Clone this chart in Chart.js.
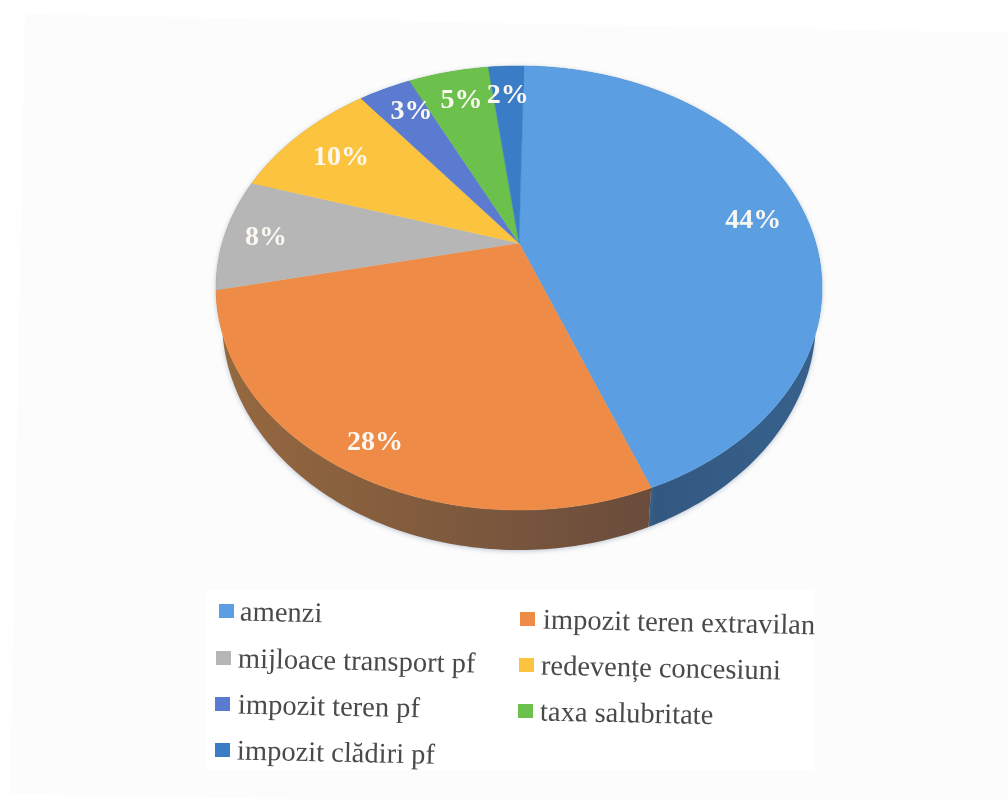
<!DOCTYPE html>
<html><head><meta charset="utf-8">
<style>
html,body{margin:0;padding:0;background:#fff;width:1008px;height:800px;overflow:hidden}
#sheet{position:absolute;left:25px;top:14px;width:1010px;height:780px;background:#fcfcfc;transform:rotate(1.1deg);transform-origin:0 0}
#legendBg{position:absolute;left:205px;top:590px;width:610px;height:180px;background:#fff}
canvas{position:absolute;left:0;top:0;filter:blur(0.55px)}
</style>
<script src="https://cdn.jsdelivr.net/npm/chart.js@4"></script>
</head><body>
<div id="sheet"></div><div id="legendBg"></div>
<canvas id="c" width="1008" height="800"></canvas>
<script>
const categories = ["amenzi","impozit teren extravilan","mijloace transport pf","redevențe concesiuni","impozit teren pf","taxa salubritate","impozit clădiri pf"];
const shares = [43.8,27.5,8.2,9.6,3.4,5.2,2.3];
const faceColors = ["#5b9fe2","#ee8c47","#b6b6b6","#fcc43e","#5a7bd0","#6cc04c","#3b7cc6"];
const wallColors = [["#37618c","#2f5278"],["#96693f","#6a4c3c"],["#777","#666"],["#a58025","#8a6a20"],["#3a5088","#304478"],["#467d30","#3a6a28"],["#27528a","#204678"]];

// Perspective view of the pie's top face, and the lower rim of the side wall
const view = {ax:519, ay:243, A:296.7, D:212.9, k:-0.2027};
const top_ = {cx:519, cy:288, ry:222, rx:303};
const low = {cx:519, cy:320, ry:230, rx:297};
function proj(a, r){
  const x=r*Math.cos(a), y=r*Math.sin(a), w=1+view.k*y;
  return [view.ax+view.A*x/w, view.ay+view.D*y/w];
}
function lower(p){
  return [low.cx+(p[0]-top_.cx)*low.rx/top_.rx, low.cy+(p[1]-top_.cy)*low.ry/top_.ry];
}
Chart.ArcElement.prototype.draw = function(ctx){
  const i=this.$context.dataIndex, c=faceColors[i];
  ctx.save();
  ctx.beginPath();
  ctx.moveTo(view.ax,view.ay);
  const n=Math.max(8,Math.ceil((this.endAngle-this.startAngle)*60));
  for(let s=0;s<=n;s++){
    const p=proj(this.startAngle+(this.endAngle-this.startAngle)*s/n,1);
    ctx.lineTo(p[0],p[1]);
  }
  ctx.closePath();
  ctx.fillStyle=c; ctx.strokeStyle=c; ctx.lineWidth=0.5;
  ctx.fill(); ctx.stroke();
  ctx.restore();
};
const wallPlugin={id:'wall',beforeDatasetsDraw(chart){
  const ctx=chart.ctx;
  chart.getDatasetMeta(0).data.forEach((el,i)=>{
    const n=Math.max(8,Math.ceil((el.endAngle-el.startAngle)*60)), up=[], dn=[];
    for(let s=0;s<=n;s++){
      const p=proj(el.startAngle+(el.endAngle-el.startAngle)*s/n,1);
      up.push(p); dn.push(lower(p));
    }
    const xs=up.concat(dn).map(p=>p[0]);
    const g=ctx.createLinearGradient(Math.min(...xs),0,Math.max(...xs),0);
    const pair=wallColors[i];
    g.addColorStop(0,i===0?pair[1]:pair[0]); g.addColorStop(1,i===0?pair[0]:pair[1]);
    ctx.save();
    ctx.shadowColor='rgba(110,130,160,0.45)'; ctx.shadowBlur=5; ctx.shadowOffsetY=1;
    ctx.beginPath();
    up.forEach((p,j)=>j?ctx.lineTo(p[0],p[1]):ctx.moveTo(p[0],p[1]));
    dn.reverse().forEach(p=>ctx.lineTo(p[0],p[1]));
    ctx.closePath();
    ctx.fillStyle=g; ctx.fill();
    ctx.restore();
  });
}};
const labelNudge=[[-7,8],[-3,12],[-3,3],[11,8],[9,3],[4,7],[0,7]];
const labelPlugin={id:'labels',afterDatasetsDraw(chart){
  const ctx=chart.ctx;
  ctx.save();
  ctx.font='bold 28px "Liberation Serif"';
  ctx.fillStyle='#fbf8f2'; ctx.textAlign='center'; ctx.textBaseline='middle';
  chart.getDatasetMeta(0).data.forEach((el,i)=>{
    const p=proj((el.startAngle+el.endAngle)/2,0.85);
    ctx.fillText(Math.round(shares[i])+'%',p[0]+labelNudge[i][0],p[1]+labelNudge[i][1]);
  });
  ctx.restore();
}};
const legendSlots=[[219,611,240],[520,619,543],[216,658,238],[519,665,541],[215,704,238],[518,711,540],[215,750,237]];
const legendPlugin={id:'legend3d',afterDraw(chart){
  const ctx=chart.ctx;
  ctx.save();
  ctx.font='28.5px "Liberation Serif"';
  ctx.textBaseline='middle'; ctx.textAlign='left';
  chart.data.labels.forEach((t,i)=>{
    const s=legendSlots[i];
    ctx.fillStyle=faceColors[i];
    ctx.fillRect(s[0],s[1]-7,15,14);
    ctx.save();
    ctx.translate(s[2],s[1]+2);
    ctx.rotate(1.2*Math.PI/180);
    ctx.fillStyle='#4a4a4a';
    ctx.fillText(t,0,0);
    ctx.restore();
  });
  ctx.restore();
}};
new Chart(document.getElementById('c'),{
  type:'pie',
  data:{labels:categories,datasets:[{data:shares,backgroundColor:faceColors,borderWidth:0}]},
  options:{responsive:false,animation:false,rotation:1.15,
    plugins:{legend:{display:false},tooltip:{enabled:false},title:{display:false}}},
  plugins:[wallPlugin,labelPlugin,legendPlugin]
});
</script>
</body></html>
